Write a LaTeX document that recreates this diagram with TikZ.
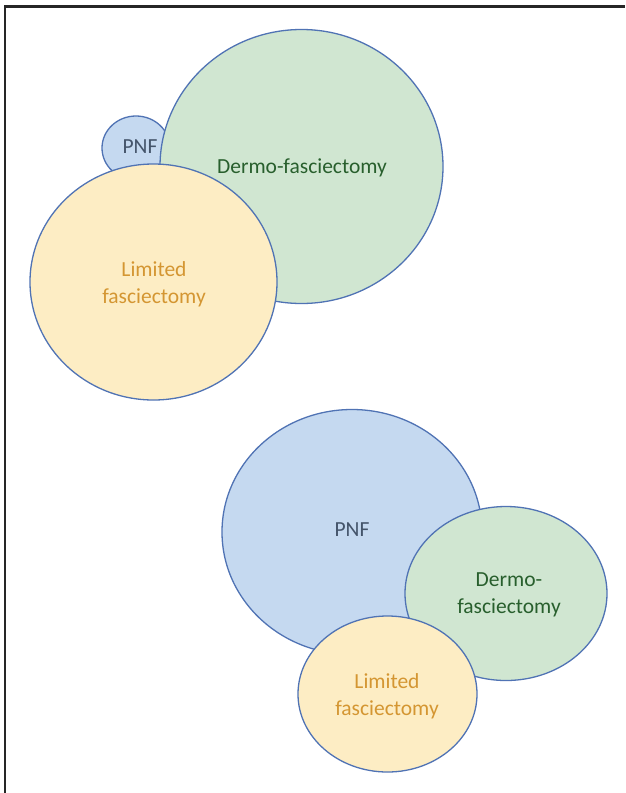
\documentclass[tikz,border=0pt]{standalone}
\usepackage{fontspec}
\setmainfont{Carlito}
\usetikzlibrary{shapes.geometric}
\definecolor{edgeblue}{RGB}{80,115,180}
\definecolor{fillblue}{RGB}{197,217,240}
\definecolor{fillgreen}{RGB}{208,230,209}
\definecolor{fillyellow}{RGB}{253,237,196}
\definecolor{txtblue}{RGB}{68,84,106}
\definecolor{txtgreen}{RGB}{40,95,45}
\definecolor{txtorange}{RGB}{212,150,50}
\tikzset{
  blob/.style={ellipse, draw=edgeblue, line width=1.3pt, inner sep=0pt},
  pnfblob/.style={blob, fill=fillblue},
  greenblob/.style={blob, fill=fillgreen},
  yellowblob/.style={blob, fill=fillyellow},
  lbl/.style={font=\fontsize{21.5}{27}\selectfont, align=center}
}
\begin{document}
\begin{tikzpicture}[x=1pt,y=-1pt]
\useasboundingbox (0,0) rectangle (625,793);
% frame
\draw[line width=2.2pt, black!85] (5,793) -- (5,6.5) -- (625,6.5);
% top group
\node[pnfblob, minimum width=68pt, minimum height=64pt] (pnfA) at (136,148) {};
\node[greenblob, minimum width=283pt, minimum height=274pt] (dermoA) at (301.5,166.5) {};
\node[yellowblob, minimum width=247pt, minimum height=236pt] (limA) at (153.5,282) {};
\node[lbl, text=txtblue] (pnfAt) at (140,147) {PNF};
\node[lbl, text=txtgreen] (dermoAt) at (302,168) {Dermo-fasciectomy};
\node[lbl, text=txtorange] (limAt) at (154,284) {Limited\\fasciectomy};
% bottom group
\node[pnfblob, minimum width=260pt, minimum height=245pt] (pnfB) at (352,532) {};
\node[greenblob, minimum width=202pt, minimum height=174pt] (dermoB) at (506,593.5) {};
\node[yellowblob, minimum width=179pt, minimum height=156pt] (limB) at (387.5,694) {};
\node[lbl, text=txtblue] (pnfBt) at (352,530) {PNF};
\node[lbl, text=txtgreen] (dermoBt) at (509,595) {Dermo-\\fasciectomy};
\node[lbl, text=txtorange] (limBt) at (387,696) {Limited\\fasciectomy};
\end{tikzpicture}
\end{document}
